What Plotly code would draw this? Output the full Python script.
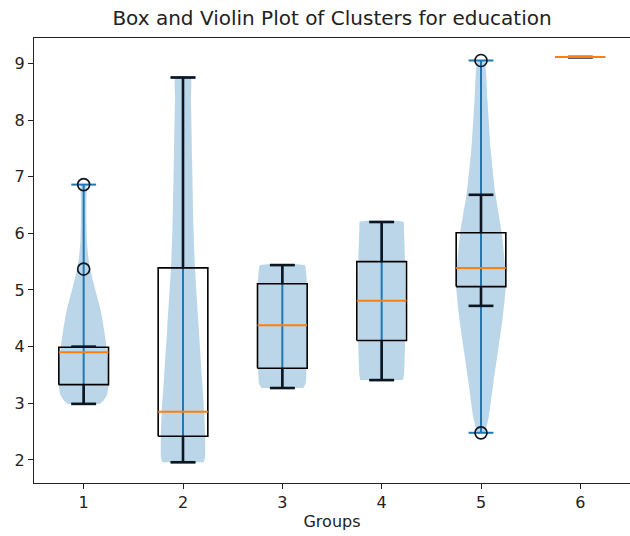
import plotly.graph_objects as go

# ---- data ----
groups = [1, 2, 3, 4, 5, 6]
q1 = [3.33, 2.42, 3.62, 4.11, 5.06, 9.11]
medians = [3.90, 2.85, 4.38, 4.81, 5.39, 9.11]
q3 = [3.99, 5.39, 5.11, 5.50, 6.01, 9.11]
whisker_low = [2.99, 1.96, 3.27, 3.41, 4.72, 9.11]
whisker_high = [4.00, 8.75, 5.44, 6.20, 6.68, 9.11]
data_min = [2.99, 1.96, 3.27, 3.41, 2.48, 9.11]
data_max = [6.86, 8.75, 5.44, 6.20, 9.05, 9.11]
outlier_groups = [1, 1, 5, 5]
outlier_values = [6.86, 5.37, 9.05, 2.48]

# violin density profiles (half-width in x units, max 0.25)
v1_levels = [2.99, 3.05, 3.15, 3.30, 3.50, 3.75, 4.00, 4.30, 4.65, 5.05, 5.37, 5.60, 5.85, 6.20, 6.55, 6.86]
v1_widths = [0.16, 0.20, 0.235, 0.25, 0.25, 0.245, 0.23, 0.205, 0.17, 0.11, 0.065, 0.045, 0.033, 0.028, 0.027, 0.027]
v2_levels = [1.96, 2.05, 2.40, 2.88, 3.47, 4.35, 5.41, 6.12, 7.29, 8.40, 8.75]
v2_widths = [0.21, 0.222, 0.223, 0.213, 0.19, 0.158, 0.12, 0.105, 0.092, 0.08, 0.076]
v3_levels = [3.27, 3.35, 3.60, 4.00, 4.40, 4.80, 5.20, 5.38, 5.44]
v3_widths = [0.21, 0.235, 0.243, 0.25, 0.25, 0.25, 0.245, 0.235, 0.225]
v4_levels = [3.41, 3.50, 3.60, 4.00, 4.50, 5.00, 5.50, 5.90, 6.10, 6.20]
v4_widths = [0.215, 0.225, 0.228, 0.235, 0.237, 0.237, 0.235, 0.228, 0.224, 0.22]
v5_levels = [2.48, 2.76, 3.36, 3.94, 4.53, 5.06, 5.41, 6.00, 6.71, 7.47, 8.35, 9.05]
v5_widths = [0.04, 0.078, 0.125, 0.173, 0.22, 0.25, 0.242, 0.21, 0.144, 0.098, 0.065, 0.033]

violin_groups = [1, 2, 3, 4, 5]
violin_levels = [v1_levels, v2_levels, v3_levels, v4_levels, v5_levels]
violin_widths = [v1_widths, v2_widths, v3_widths, v4_widths, v5_widths]

BOX_HALF = 0.25
CAP_HALF = 0.125
BLUE = "#1f77b4"
ORANGE = "#ff7f0e"
DARK = "#0d1520"

fig = go.Figure()

# violin bodies
for g, lv, wd in zip(violin_groups, violin_levels, violin_widths):
    xs = [g + w for w in wd] + [g - w for w in reversed(wd)]
    ys = list(lv) + list(reversed(lv))
    fig.add_trace(go.Scatter(
        x=xs, y=ys, mode="lines", fill="toself",
        fillcolor="rgba(31,119,180,0.3)",
        line=dict(width=0, shape="spline", smoothing=0.5, color="rgba(31,119,180,0)"),
        hoverinfo="skip", showlegend=False))

def add_seg(xs, ys, x0, x1, y0, y1):
    xs += [x0, x1, None]
    ys += [y0, y1, None]

# violin center lines and extrema caps
cx, cy = [], []
for g, lo, hi in zip(groups, data_min, data_max):
    add_seg(cx, cy, g, g, lo, hi)
    add_seg(cx, cy, g - CAP_HALF, g + CAP_HALF, lo, lo)
    add_seg(cx, cy, g - CAP_HALF, g + CAP_HALF, hi, hi)
fig.add_trace(go.Scatter(x=cx, y=cy, mode="lines", line=dict(color=BLUE, width=2),
                         hoverinfo="skip", showlegend=False))

# boxes
bx, by = [], []
for g, a, b in zip(groups, q1, q3):
    bx += [g - BOX_HALF, g + BOX_HALF, g + BOX_HALF, g - BOX_HALF, g - BOX_HALF, None]
    by += [a, a, b, b, a, None]
fig.add_trace(go.Scatter(x=bx, y=by, mode="lines", line=dict(color="black", width=1.6),
                         hoverinfo="skip", showlegend=False))

# whiskers and caps
wx, wy = [], []
for g, lo, a, b, hi in zip(groups, whisker_low, q1, q3, whisker_high):
    add_seg(wx, wy, g, g, lo, a)
    add_seg(wx, wy, g, g, b, hi)
    add_seg(wx, wy, g - CAP_HALF, g + CAP_HALF, lo, lo)
    add_seg(wx, wy, g - CAP_HALF, g + CAP_HALF, hi, hi)
fig.add_trace(go.Scatter(x=wx, y=wy, mode="lines", line=dict(color=DARK, width=2.6),
                         hoverinfo="skip", showlegend=False))

# medians
mx, my = [], []
for g, m in zip(groups, medians):
    add_seg(mx, my, g - BOX_HALF, g + BOX_HALF, m, m)
fig.add_trace(go.Scatter(x=mx, y=my, mode="lines", line=dict(color=ORANGE, width=2),
                         hoverinfo="skip", showlegend=False))

# outliers
fig.add_trace(go.Scatter(x=outlier_groups, y=outlier_values, mode="markers",
                         marker=dict(symbol="circle-open", size=12, color=DARK,
                                     line=dict(width=1.7, color=DARK)),
                         hoverinfo="skip", showlegend=False))

fig.update_layout(
    width=630, height=536,
    margin=dict(l=34, r=0, t=38, b=53),
    paper_bgcolor="white", plot_bgcolor="white",
    font=dict(family="DejaVu Sans", size=16, color="#222"),
    title=dict(text="Box and Violin Plot of Clusters for education",
               x=0.5, xref="paper", y=1 - 18 / 536, yref="container",
               xanchor="center", yanchor="middle",
               font=dict(size=20, family="DejaVu Sans", color="#222")),
    showlegend=False,
)
fig.update_xaxes(range=[0.5, 6.5], tickvals=groups, ticktext=[str(g) for g in groups],
                 showline=True, linecolor="#222", linewidth=1.4, mirror=True,
                 ticks="outside", ticklen=5, tickcolor="#222", showgrid=False, zeroline=False,
                 title=dict(text="Groups", standoff=4, font=dict(size=16)),
                 tickfont=dict(size=16))
fig.update_yaxes(range=[1.594, 9.447], tickvals=[2, 3, 4, 5, 6, 7, 8, 9],
                 showline=True, linecolor="#222", linewidth=1.4, mirror=False,
                 ticks="outside", ticklen=5, tickcolor="#222", showgrid=False, zeroline=False,
                 tickfont=dict(size=16))

fig.write_html("out.html")
